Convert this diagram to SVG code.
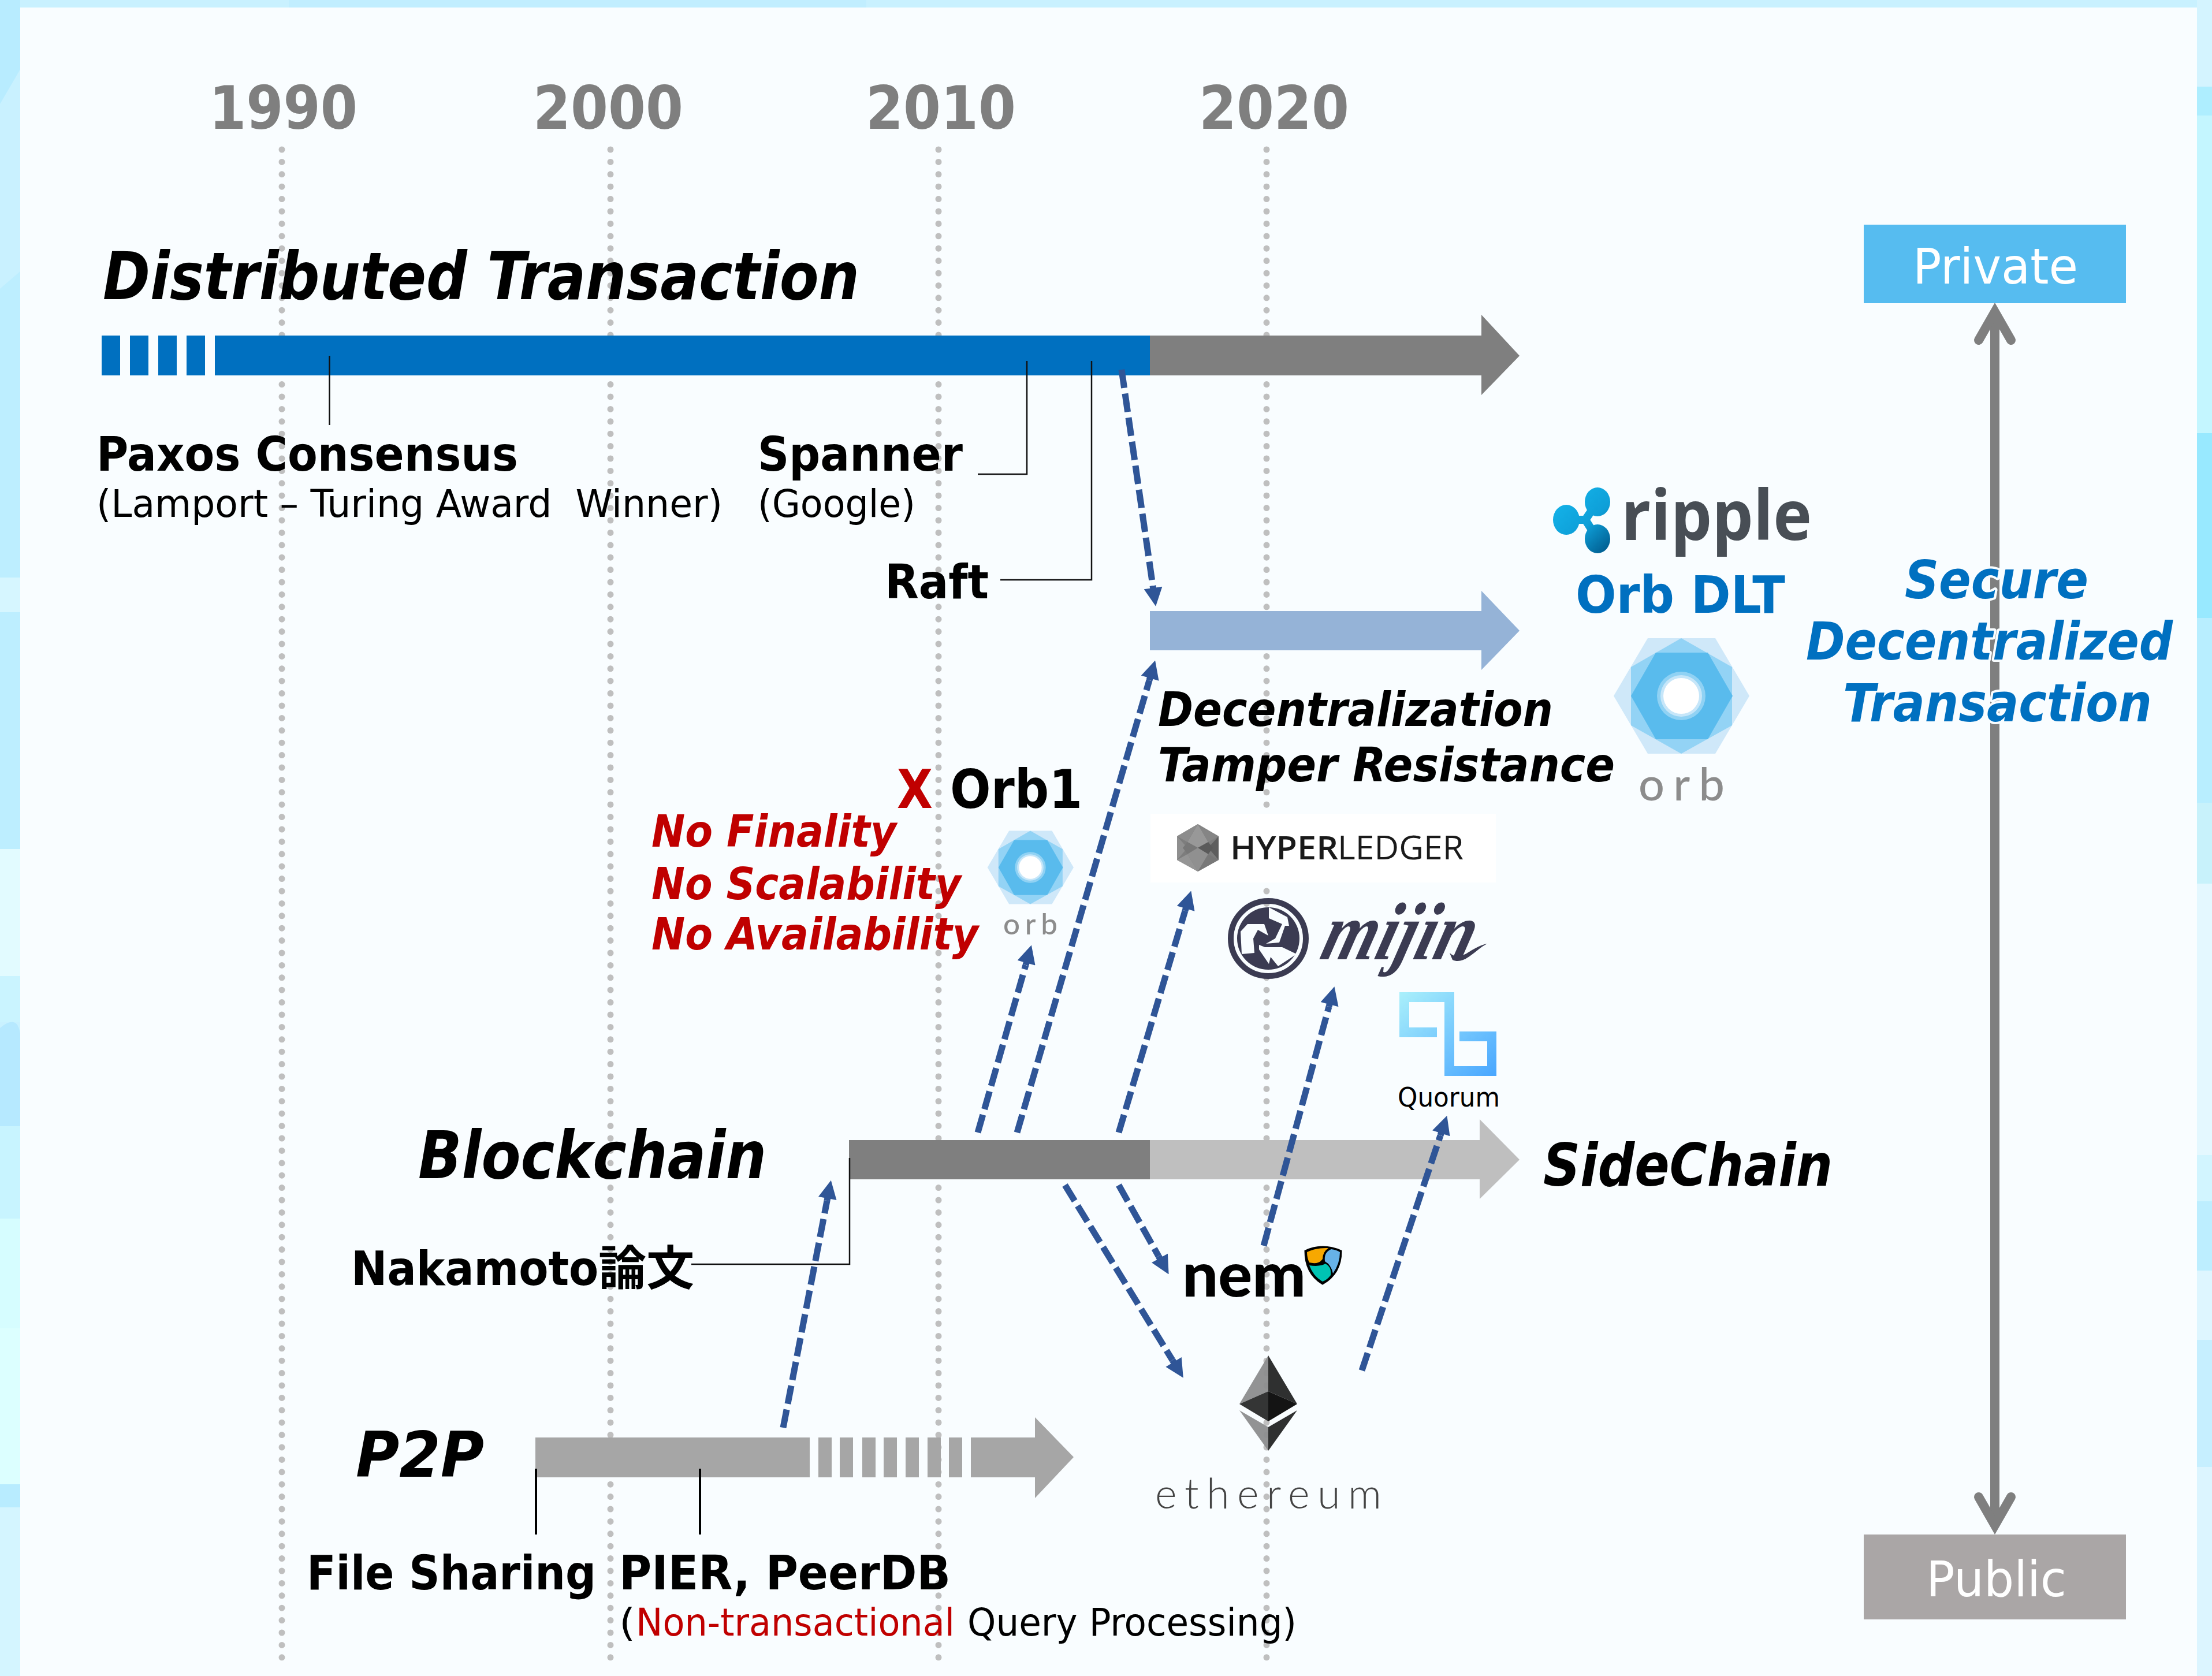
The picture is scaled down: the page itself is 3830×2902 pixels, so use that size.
<svg xmlns="http://www.w3.org/2000/svg" width="3830" height="2902" viewBox="0 0 3830 2902">
<style>
text{font-family:"DejaVu Sans","Noto Sans CJK JP",sans-serif;font-stretch:condensed}
.b{font-weight:700}
.bi{font-weight:700;font-style:italic}
.year{font-weight:700;font-size:104px;fill:#7f7f7f}
.lab{font-weight:700;font-size:82px;fill:#000}
.sub{font-size:66px;fill:#000}
.red{fill:#c00000}
.blue{fill:#0070c0}
.halo{paint-order:stroke;stroke:#f9fdff;stroke-width:8px;stroke-linejoin:round}
.grid{fill:none;stroke:#bfbfbf;stroke-width:11;stroke-linecap:round;stroke-dasharray:0 21.4}
.flow{fill:none;stroke:#2f5597;stroke-width:11;stroke-dasharray:32 10;marker-end:url(#ah)}
.lead{fill:none;stroke:#111;stroke-width:2.500}
.lead2{fill:none;stroke:#000;stroke-width:4}
.orbt{font-family:Lato,"Open Sans",sans-serif;font-stretch:normal;font-weight:500;fill:#8c8c8c}
</style>
<defs>
<marker id="ah" markerUnits="userSpaceOnUse" markerWidth="36" markerHeight="32" refX="0" refY="16" orient="auto" viewBox="0 0 36 32"><path d="M0 10.500H4V0L36 16L4 32V21.500H0Z" fill="#2f5597"/></marker>
<linearGradient id="qg" x1="0" y1="0" x2="1" y2="1"><stop offset="0" stop-color="#aaf0fb"/><stop offset="1" stop-color="#48a6ff"/></linearGradient>
<linearGradient id="rg" gradientUnits="userSpaceOnUse" x1="2695" y1="860" x2="2785" y2="955"><stop offset="0" stop-color="#14b4ea"/><stop offset=".55" stop-color="#0e9fd8"/><stop offset="1" stop-color="#005a8c"/></linearGradient>
<g id="orbmark">
<polygon points="-58,-100 59,-100 118,0 59,100 -58,100 -117,0" fill="#cfe8f9"/>
<polygon points="0,-100 88,-50 88,51 0,100 -87,51 -87,-50" fill="#93d3f5"/>
<polygon points="-44,-75 46,-75 89,0 46,75 -44,75 -87,0" fill="#59bbed"/>
<circle r="42" fill="#90d2f4"/><circle r="36" fill="#c6e6f9"/><circle r="31" fill="#fff"/>
</g>
</defs>

<g id="background">
<rect width="3830" height="2902" fill="#c9f1ff"/>
<polygon points="0,0 35,0 35,120 0,180" fill="#b8ecff"/>
<polygon points="0,500 35,470 35,1000 0,1000" fill="#bdeeff"/>
<rect y="1000" width="35" height="60" fill="#d6f6ff"/>
<rect y="1060" width="35" height="410" fill="#bdeeff"/>
<rect y="1470" width="35" height="220" fill="#e2fbff"/>
<rect y="1690" width="35" height="80" fill="#caf4ff"/>
<path d="M0 1780Q30 1755 35 1790V1950H0Z" fill="#b6e9ff"/>
<rect y="1950" width="35" height="160" fill="#c8f4ff"/>
<rect y="2110" width="35" height="190" fill="#d6fdff"/>
<rect y="2300" width="35" height="270" fill="#dcffff"/>
<rect y="2570" width="35" height="40" fill="#b8ecff"/>
<rect y="2610" width="35" height="292" fill="#d4f5ff"/>
<rect x="3804" y="0" width="26" height="150" fill="#d4f4ff"/>
<rect x="3804" y="150" width="26" height="50" fill="#aeeeff"/>
<rect x="3804" y="200" width="26" height="550" fill="#c4f6ff"/>
<rect x="3804" y="750" width="26" height="320" fill="#98e9ff"/>
<rect x="3804" y="1070" width="26" height="320" fill="#b8eeff"/>
<rect x="3804" y="1390" width="26" height="140" fill="#c8f2fb"/>
<rect x="3804" y="1530" width="26" height="470" fill="#e4f8ff"/>
<rect x="3804" y="2000" width="26" height="80" fill="#d2f5ff"/>
<rect x="3804" y="2080" width="26" height="120" fill="#bdeeff"/>
<rect x="3804" y="2200" width="26" height="120" fill="#def6ff"/>
<rect x="3804" y="2320" width="26" height="220" fill="#c6efff"/>
<rect x="3804" y="2540" width="26" height="362" fill="#dcf5ff"/>
<polygon points="500,0 1500,0 1500,14 500,14" fill="#c1eeff"/>
<rect x="35" y="13" width="3769" height="2889" fill="#f9fdff"/>
</g>

<g id="gridlines">
<line class="grid" x1="488" y1="259" x2="488" y2="2890"/>
<line class="grid" x1="1057" y1="259" x2="1057" y2="2890"/>
<line class="grid" x1="1625" y1="259" x2="1625" y2="2890"/>
<line class="grid" x1="2193" y1="259" x2="2193" y2="2890"/>
</g>

<g id="years">
<text class="year" x="362" y="223" textLength="257" lengthAdjust="spacingAndGlyphs">1990</text>
<text class="year" x="923" y="223" textLength="260" lengthAdjust="spacingAndGlyphs">2000</text>
<text class="year" x="1499" y="223" textLength="260" lengthAdjust="spacingAndGlyphs">2010</text>
<text class="year" x="2076" y="223" textLength="260" lengthAdjust="spacingAndGlyphs">2020</text>
</g>

<g id="distributed-transaction">
<text class="bi" font-size="114" x="178" y="518" textLength="1310" lengthAdjust="spacingAndGlyphs">Distributed Transaction</text>
<g fill="#0070c0">
<rect x="176" y="581" width="32" height="69"/><rect x="225" y="581" width="32" height="69"/><rect x="274" y="581" width="32" height="69"/><rect x="323" y="581" width="32" height="69"/><rect x="372" y="581" width="1620" height="69"/>
</g>
<polygon points="1991,581 2565,581 2565,545 2631,616 2565,684 2565,650 1991,650" fill="#7f7f7f"/>
</g>

<g id="orb-dlt-bar"><polygon points="1991,1058 2565,1058 2565,1023 2631,1092 2565,1160 2565,1126 1991,1126" fill="#95b3d7"/></g>

<g id="blockchain-bar">
<polygon points="1991,1974 2562,1974 2562,1938 2631,2008 2562,2076 2562,2042 1991,2042" fill="#bfbfbf"/>
<rect x="1470" y="1974" width="521" height="68" fill="#7f7f7f"/>
</g>

<g id="p2p-bar" fill="#a6a6a6">
<rect x="927" y="2489" width="475" height="69"/>
<rect x="1417" y="2489" width="23" height="69"/><rect x="1454" y="2489" width="23" height="69"/><rect x="1493" y="2489" width="23" height="69"/><rect x="1530" y="2489" width="23" height="69"/><rect x="1568" y="2489" width="23" height="69"/><rect x="1606" y="2489" width="23" height="69"/><rect x="1643" y="2489" width="23" height="69"/>
<polygon points="1681,2489 1792,2489 1792,2454 1859,2523 1792,2594 1792,2558 1681,2558"/>
</g>

<g id="connectors">
<path class="lead" d="M570.500 616V736"/>
<path class="lead" d="M1778 625V821H1693"/>
<path class="lead" d="M1890 625V1004H1732"/>
<path class="lead" d="M1471 2005V2189H1197"/>
<path class="lead2" d="M928 2543V2657"/>
<path class="lead2" d="M1212 2543V2657"/>
<path class="flow" d="M1942 640L1996 1014"/>
<path class="flow" d="M1356 2472L1432 2079"/>
<path class="flow" d="M1693 1961L1776 1671"/>
<path class="flow" d="M1761 1961L1990 1178"/>
<path class="flow" d="M1937 1961L2052 1577"/>
<path class="flow" d="M2188 2157L2301 1743"/>
<path class="flow" d="M2358 2373L2494 1966"/>
<path class="flow" d="M1937 2052L2006 2175"/>
<path class="flow" d="M1844 2052L2030 2355"/>
</g>

<g id="paxos">
<text class="lab" x="167" y="815" textLength="730" lengthAdjust="spacingAndGlyphs">Paxos Consensus</text>
<text class="sub" x="167" y="895" textLength="1084" lengthAdjust="spacingAndGlyphs" xml:space="preserve">(Lamport – Turing Award  Winner)</text>
</g>
<g id="spanner">
<text class="lab" x="1312" y="815" textLength="355" lengthAdjust="spacingAndGlyphs">Spanner</text>
<text class="sub" x="1312" y="895" textLength="273" lengthAdjust="spacingAndGlyphs">(Google)</text>
</g>
<g id="raft"><text class="lab" x="1532" y="1036" textLength="180" lengthAdjust="spacingAndGlyphs">Raft</text></g>

<g id="ripple">
<g fill="url(#rg)">
<ellipse cx="2712" cy="900" rx="23" ry="26"/><ellipse cx="2766" cy="869" rx="22" ry="25"/><ellipse cx="2766" cy="933" rx="22" ry="25"/>
<path d="M2712 900H2745L2766 869M2745 900L2766 933" fill="none" stroke="url(#rg)" stroke-width="14"/>
</g>
<text x="2807" y="935" font-size="120" font-weight="700" fill="#484e55" style="font-family:'Open Sans',sans-serif;font-stretch:normal" textLength="330" lengthAdjust="spacingAndGlyphs">ripple</text>
</g>

<g id="orb-dlt">
<text class="b blue" font-size="89" x="2728" y="1061" textLength="363" lengthAdjust="spacingAndGlyphs">Orb DLT</text>
<use href="#orbmark" transform="translate(2911 1205)"/>
<text class="orbt" font-size="79" x="2837" y="1386" textLength="149" lengthAdjust="spacing">orb</text>
</g>

<g id="vertical-axis" fill="none" stroke="#7f7f7f" stroke-width="16">
<path d="M3454 545V2640"/>
<path stroke-linecap="round" stroke-miterlimit="6" d="M3426 589L3454 540L3482 589"/>
<path stroke-linecap="round" stroke-miterlimit="6" d="M3426 2592L3454 2641L3482 2592"/>
</g>

<g id="secure-text">
<text class="bi blue halo" font-size="90" x="3298" y="1036" textLength="318" lengthAdjust="spacingAndGlyphs">Secure</text>
<text class="bi blue halo" font-size="90" x="3127" y="1142" textLength="635" lengthAdjust="spacingAndGlyphs">Decentralized</text>
<text class="bi blue halo" font-size="90" x="3191" y="1249" textLength="535" lengthAdjust="spacingAndGlyphs">Transaction</text>
</g>

<g id="private"><rect x="3227" y="389" width="454" height="136" fill="#56bcf0"/>
<text font-size="85" fill="#fff" x="3312" y="491" textLength="286" lengthAdjust="spacingAndGlyphs">Private</text></g>
<g id="public"><rect x="3227" y="2657" width="454" height="147" fill="#aaa6a6"/>
<text font-size="85" fill="#fff" x="3335" y="2764" textLength="243" lengthAdjust="spacingAndGlyphs">Public</text></g>

<g id="decentralization">
<text class="bi" font-size="82" x="2005" y="1257" textLength="684" lengthAdjust="spacingAndGlyphs">Decentralization</text>
<text class="bi" font-size="82" x="2005" y="1353" textLength="791" lengthAdjust="spacingAndGlyphs">Tamper Resistance</text>
</g>

<g id="orb1">
<text class="b red" font-size="92" x="1553" y="1399" textLength="62" lengthAdjust="spacingAndGlyphs">X</text>
<text class="b" font-size="92" x="1645" y="1399" textLength="229" lengthAdjust="spacingAndGlyphs">Orb1</text>
<text class="bi red" font-size="76" x="1128" y="1466" textLength="424" lengthAdjust="spacingAndGlyphs">No Finality</text>
<text class="bi red" font-size="76" x="1128" y="1557" textLength="536" lengthAdjust="spacingAndGlyphs">No Scalability</text>
<text class="bi red" font-size="76" x="1128" y="1644" textLength="566" lengthAdjust="spacingAndGlyphs">No Availability</text>
<use href="#orbmark" transform="translate(1784 1502) scale(.635)"/>
<text class="orbt" font-size="51" x="1737" y="1618" textLength="94" lengthAdjust="spacing">orb</text>
</g>

<g id="hyperledger">
<rect x="1992" y="1409" width="598" height="119" fill="#fff"/>
<polygon points="2074,1427 2110,1448 2110,1489 2074,1509 2038,1489 2038,1448" fill="#7d7d7d"/>
<polygon points="2074,1427 2092,1458 2074,1468 2056,1458" fill="#989898"/>
<polygon points="2074,1427 2110,1448 2092,1458" fill="#858585"/>
<polygon points="2074,1427 2038,1448 2056,1458" fill="#8c8c8c"/>
<polygon points="2110,1448 2110,1489 2092,1468" fill="#5e5e5e"/>
<polygon points="2038,1448 2038,1489 2056,1468" fill="#8f8f8f"/>
<polygon points="2056,1458 2074,1468 2056,1479 2048,1468" fill="#777"/>
<polygon points="2092,1458 2074,1468 2092,1479 2100,1468" fill="#5a5a5a"/>
<polygon points="2074,1509 2092,1479 2074,1468 2056,1479" fill="#909090"/>
<polygon points="2074,1509 2110,1489 2092,1479" fill="#787878"/>
<polygon points="2074,1509 2038,1489 2056,1479" fill="#959595"/>
<text x="2130" y="1488" font-size="56" font-weight="600" fill="#1a1a1a" style="font-family:'Open Sans',sans-serif;font-stretch:normal" textLength="187" lengthAdjust="spacingAndGlyphs">HYPER</text>
<text x="2316" y="1488" font-size="56" font-weight="400" fill="#1a1a1a" style="font-family:'Open Sans',sans-serif;font-stretch:normal" textLength="218" lengthAdjust="spacingAndGlyphs">LEDGER</text>
</g>

<g id="mijin">
<circle cx="2196" cy="1625" r="65" fill="none" stroke="#3b3b52" stroke-width="10"/>
<circle cx="2196" cy="1625" r="54" fill="#3b3b52"/>
<g fill="#f9fdff">
<polygon points="2197,1571 2229,1588 2232,1603 2225,1603 2215,1632 2192,1634 2208,1625 2220,1600 2197,1590"/>
<polygon points="2148,1613 2160,1600 2189,1600 2196,1620 2178,1610 2170,1625 2172,1650 2150,1652"/>
<polygon points="2180,1636 2190,1640 2220,1640 2245,1652 2213,1673 2200,1657 2197,1669 2180,1644"/>
</g>
<text transform="translate(2282 1661) skewX(-16)" font-size="142" font-weight="700" font-style="italic" fill="#3b3b52" style="font-family:'Liberation Serif',serif;font-stretch:normal" textLength="262" lengthAdjust="spacingAndGlyphs">mijin</text>
<path d="M2510 1650C2530 1668 2545 1640 2575 1634C2555 1644 2535 1672 2515 1662Z" fill="#3b3b52"/>
</g>

<g id="quorum">
<path d="M2423 1718H2518V1846H2575V1803H2527V1786H2591V1863H2501V1735H2440V1779H2488V1796H2423Z" fill="url(#qg)"/>
<text font-size="47" x="2420" y="1916" textLength="177" lengthAdjust="spacingAndGlyphs">Quorum</text>
</g>

<g id="blockchain-labels">
<text class="bi" font-size="114" x="724" y="2040" textLength="603" lengthAdjust="spacingAndGlyphs">Blockchain</text>
<text class="bi" font-size="102" x="2672" y="2053" textLength="501" lengthAdjust="spacingAndGlyphs">SideChain</text>
<text class="lab" x="608" y="2225" textLength="594" lengthAdjust="spacingAndGlyphs">Nakamoto論文</text>
</g>

<g id="nem">
<text x="2047" y="2245" font-size="106" font-weight="900" fill="#000" style="font-family:Lato,'Open Sans',sans-serif;font-stretch:normal" textLength="214" lengthAdjust="spacingAndGlyphs">nem</text>
<path d="M2260 2166Q2290 2152 2322 2166Q2322 2205 2290 2223Q2260 2205 2260 2166Z" fill="#000" stroke="#000" stroke-width="3"/>
<path d="M2263 2168Q2280 2160 2300 2161Q2290 2168 2290 2180Q2283 2190 2267 2186Q2263 2178 2263 2168Z" fill="#f7a800"/>
<path d="M2305 2163Q2314 2164 2320 2168Q2320 2188 2308 2205Q2305 2190 2294 2184Q2292 2168 2305 2163Z" fill="#67b2e8"/>
<path d="M2267 2191Q2285 2194 2295 2188Q2306 2194 2304 2208Q2298 2216 2290 2219Q2274 2210 2267 2191Z" fill="#00c4b3"/>
</g>

<g id="ethereum">
<polygon points="2196,2347 2146,2431 2196,2409" fill="#8c8d8e" fill-opacity=".95"/>
<polygon points="2196,2347 2246,2431 2196,2409" fill="#2f3030"/>
<polygon points="2196,2409 2146,2431 2196,2461" fill="#343535"/>
<polygon points="2196,2409 2246,2431 2196,2461" fill="#141414"/>
<polygon points="2146,2442 2196,2471 2196,2512" fill="#8c8d8e" fill-opacity=".95"/>
<polygon points="2246,2442 2196,2471 2196,2512" fill="#2f3030"/>
<text x="2000" y="2612" font-size="72" font-weight="300" fill="#444" style="font-family:Lato,'Open Sans',sans-serif;font-stretch:normal" textLength="392" lengthAdjust="spacing">ethereum</text>
</g>

<g id="p2p-labels">
<text class="bi" font-size="109" x="616" y="2557" textLength="222" lengthAdjust="spacingAndGlyphs">P2P</text>
<text class="lab" x="531" y="2752" textLength="501" lengthAdjust="spacingAndGlyphs">File Sharing</text>
<text class="lab" x="1072" y="2752" textLength="574" lengthAdjust="spacingAndGlyphs">PIER, PeerDB</text>
<text class="sub" x="1072" y="2832" textLength="28" lengthAdjust="spacingAndGlyphs">(</text>
<text class="sub red" x="1101" y="2832" textLength="552" lengthAdjust="spacingAndGlyphs">Non-transactional</text>
<text class="sub" x="1675" y="2832" textLength="570" lengthAdjust="spacingAndGlyphs">Query Processing)</text>
</g>
</svg>
